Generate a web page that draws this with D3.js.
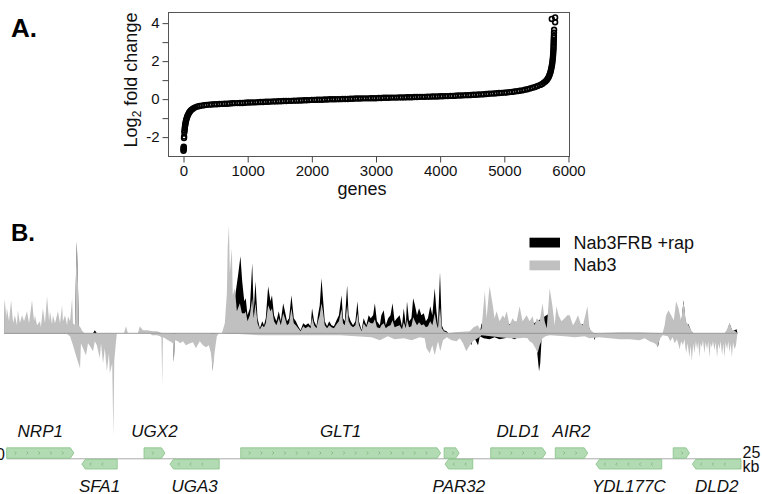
<!DOCTYPE html>
<html>
<head>
<meta charset="utf-8">
<script src="https://cdn.jsdelivr.net/npm/d3@7"></script>
<style>
  body { margin: 0; background: #fff; }
  svg { display: block; font-family: "Liberation Sans", Arial, sans-serif; }
</style>
</head>
<body>
<script>
// ---------- panel A: sorted log2 fold change per gene ----------
const lowRanks = [0, 1, 2, 3, 4, 8, 9, 13, 16, 19, 22, 25, 29, 33, 38, 44, 50, 57, 65, 75, 86, 98, 112, 128, 146, 166, 190, 218, 250, 285, 320, 360];
const lowValues = [-2.72, -2.66, -2.6, -2.55, -2.5, -2.05, -1.97, -1.75, -1.65, -1.56, -1.47, -1.39, -1.31, -1.23, -1.15, -1.07, -1.0, -0.93, -0.86, -0.79, -0.72, -0.66, -0.6, -0.55, -0.5, -0.46, -0.42, -0.39, -0.36, -0.34, -0.32, -0.3];
const midRanks = d3.range(400, 5401, 40);
const midValues = [
  -0.29, -0.28, -0.27, -0.27, -0.26, -0.25, -0.24, -0.24, -0.23, -0.22, -0.21, -0.21, -0.20, -0.20, -0.19, -0.18,
  -0.18, -0.17, -0.17, -0.16, -0.15, -0.15, -0.14, -0.14, -0.13, -0.12, -0.12, -0.11, -0.11, -0.10, -0.10, -0.09,
  -0.09, -0.08, -0.08, -0.07, -0.07, -0.06, -0.06, -0.05, -0.04, -0.04, -0.03, -0.03, -0.03, -0.02, -0.02, -0.01,
  -0.01, -0.01, 0.00, 0.00, 0.01, 0.01, 0.01, 0.02, 0.02, 0.03, 0.03, 0.03, 0.04, 0.04, 0.04, 0.05, 0.05, 0.05,
  0.06, 0.06, 0.07, 0.07, 0.07, 0.08, 0.08, 0.08, 0.09, 0.09, 0.09, 0.10, 0.10, 0.10, 0.11, 0.11, 0.12, 0.12,
  0.12, 0.13, 0.13, 0.14, 0.14, 0.14, 0.15, 0.15, 0.16, 0.16, 0.17, 0.17, 0.18, 0.19, 0.19, 0.20, 0.21, 0.21,
  0.22, 0.23, 0.23, 0.24, 0.25, 0.26, 0.27, 0.28, 0.29, 0.30, 0.31, 0.32, 0.33, 0.34, 0.35, 0.37, 0.38, 0.40,
  0.42, 0.44, 0.46, 0.49, 0.52, 0.56
];
const highRanks = [5440, 5480, 5520, 5560, 5590, 5615, 5640, 5660, 5675, 5688, 5698, 5707, 5715, 5722, 5728, 5734, 5739, 5744, 5748, 5752, 5755, 5758, 5760, 5762, 5764, 5766, 5767, 5768, 5769, 5770, 5771, 5772, 5773, 5774, 5776, 5740, 5792, 5792];
const highValues = [0.6, 0.64, 0.69, 0.75, 0.8, 0.86, 0.93, 1.0, 1.07, 1.14, 1.22, 1.3, 1.38, 1.46, 1.55, 1.64, 1.73, 1.82, 1.92, 2.02, 2.12, 2.22, 2.32, 2.42, 2.52, 2.62, 2.72, 2.82, 2.92, 3.02, 3.12, 3.22, 3.34, 3.5, 3.65, 4.22, 4.3, 4.05];
const xTicksA = [0, 1000, 2000, 3000, 4000, 5000, 6000];
const yTicksA = [-2, -1, 0, 1, 2, 3, 4];

// ---------- panel B: coverage tracks, [kb, reads] ----------
const nab3Sense = [
  [0,0],[0.02,20],[0.03,33],[0.07,15],[0.10,25],[0.17,12],[0.24,33],[0.31,10],[0.37,18],[0.44,8],[0.47,23],[0.54,10],
  [0.61,18],[0.68,12],[0.78,22],[0.85,10],[0.95,33],[1.02,12],[1.05,18],[1.12,8],[1.22,12],[1.25,6],[1.32,25],[1.39,10],
  [1.46,37],[1.53,12],[1.56,22],[1.63,9],[1.66,18],[1.73,10],[1.83,22],[1.90,10],[1.97,28],[2.00,12],[2.07,18],[2.14,8],
  [2.17,17],[2.24,12],[2.31,35],[2.34,10],[2.41,8],[2.44,60],[2.47,91],[2.51,50],[2.54,8],[2.61,5],[2.64,3],[2.71,0],
  [4.07,0],[4.14,7],[4.20,0],[4.54,0],[4.61,7],[4.71,3],[4.85,3],[5.05,2],[5.19,2],[5.29,1],[5.36,0],
  [7.39,0],[7.49,10],[7.56,40],[7.59,87],[7.63,108],[7.66,60],[7.73,85],[7.76,38],[7.83,45],[7.90,22],[8.00,30],[8.07,20],
  [8.17,20],[8.20,22],[8.26,12],[8.34,18],[8.42,35],[8.47,15],[8.53,30],[8.60,10],[8.68,4],[8.76,8],[8.82,6],[8.88,10],
  [8.96,28],[9.04,22],[9.09,25],[9.16,12],[9.24,8],[9.32,15],[9.39,8],[9.47,20],[9.53,15],[9.60,8],[9.67,10],[9.75,25],
  [9.83,10],[9.90,8],[9.98,5],[10.06,2],[10.15,7],[10.23,5],[10.32,7],[10.40,5],[10.45,16],[10.52,8],[10.60,5],[10.65,12],
  [10.71,18],[10.77,30],[10.82,22],[10.88,8],[10.96,5],[11.03,8],[11.11,6],[11.19,5],[11.28,9],[11.36,12],[11.45,24],
  [11.50,10],[11.56,8],[11.64,28],[11.69,12],[11.76,8],[11.84,6],[11.92,8],[11.99,20],[12.04,8],[12.13,2],[12.20,10],
  [12.29,6],[12.37,12],[12.44,10],[12.52,10],[12.58,14],[12.65,6],[12.75,5],[12.80,8],[12.88,10],[12.95,5],[13.03,7],
  [13.11,8],[13.18,13],[13.25,6],[13.33,7],[13.42,8],[13.50,4],[13.56,11],[13.63,5],[13.67,14],[13.74,6],[13.82,7],
  [13.88,16],[13.94,12],[14.01,8],[14.08,11],[14.16,8],[14.24,9],[14.31,6],[14.38,7],[14.46,12],[14.53,8],[14.61,20],
  [14.67,10],[14.72,5],[14.79,26],[14.85,5],[14.92,2],[15.01,1],[15.08,0],
  [15.29,1],[15.80,2],[15.93,6],[16.07,8],[16.17,3],[16.20,5],[16.31,42],[16.37,15],[16.47,47],[16.58,28],[16.64,15],
  [16.71,22],[16.81,12],[16.92,18],[16.98,15],[17.05,22],[17.15,8],[17.25,15],[17.32,12],[17.39,12],[17.49,27],[17.59,12],
  [17.66,15],[17.73,18],[17.83,12],[17.93,17],[18.00,8],[18.07,15],[18.17,12],[18.27,30],[18.34,12],[18.41,5],[18.51,45],
  [18.60,28],[18.68,8],[18.74,27],[18.81,18],[18.91,12],[19.02,15],[19.11,18],[19.19,18],[19.30,8],[19.38,12],[19.47,18],
  [19.56,10],[19.64,8],[19.79,27],[19.86,5],[19.94,2],[20.03,0],
  [20.88,1],[21.56,1],[22.34,0],[22.41,8],[22.46,18],[22.54,23],[22.63,18],[22.72,13],[22.80,32],[22.88,25],[22.97,12],
  [23.05,32],[23.13,12],[23.22,8],[23.31,3],[23.39,0],
  [24.44,0],[24.51,3],[24.61,10],[24.71,3],[24.81,2],[24.88,0]
];
const nab3Anti = [
  [0,0],[2.10,0],[2.24,-3],[2.34,-12],[2.47,-25],[2.58,-35],[2.61,-10],[2.68,-15],[2.78,-22],[2.85,-10],[2.92,-13],
  [3.02,-18],[3.08,-8],[3.15,-12],[3.25,-25],[3.29,-10],[3.36,-30],[3.42,-15],[3.49,-38],[3.56,-20],[3.59,-40],[3.67,-30],
  [3.71,-103],[3.74,-28],[3.80,-8],[3.83,0],
  [4.95,0],[5.02,-2],[5.19,-2],[5.29,-3],[5.34,-4],[5.37,-52],[5.39,-4],[5.46,-5],[5.56,-7],[5.63,-8],[5.73,-10],[5.76,-28],
  [5.80,-7],[5.90,-8],[5.97,-10],[6.07,-8],[6.17,-12],[6.31,-10],[6.41,-9],[6.51,-15],[6.64,-8],[6.75,-12],[6.85,-14],
  [6.95,-12],[7.02,-20],[7.08,-37],[7.15,-18],[7.22,-3],[7.29,0],
  [7.49,0],[8.68,-2],[10.03,-2],[11.39,-2],[12.47,-4],[12.75,-7],[13.02,-3],[13.25,-6],[13.56,-5],[13.83,-7],[14.10,-4],
  [14.27,-5],[14.33,-15],[14.44,-20],[14.53,-12],[14.61,-22],[14.72,-8],[14.80,-18],[14.89,-7],[15.02,-4],[15.18,-7],
  [15.35,-8],[15.46,-5],[15.57,-10],[15.68,-18],[15.80,-12],[15.90,-8],[16.07,-5],[16.20,-2],[16.81,-4],[17.15,-5],
  [17.49,-5],[17.73,-4],[17.83,-8],[17.93,-10],[18.03,-15],[18.10,-20],[18.17,-12],[18.27,-5],[18.37,-3],[18.51,-2],
  [19.02,-3],[19.36,-4],[19.69,-3],[19.86,-5],[20.20,-4],[20.54,-5],[20.88,-6],[21.22,-6],[21.56,-7],[21.73,-5],[21.90,-8],
  [22.07,-10],[22.17,-13],[22.24,-6],[22.34,-2],[22.52,-3],[22.60,-8],[22.68,-4],[22.75,-10],[22.83,-6],[22.92,-16],
  [22.97,-8],[23.03,-12],[23.08,-6],[23.14,-20],[23.19,-10],[23.25,-24],[23.29,-12],[23.33,-28],[23.38,-10],[23.42,-20],
  [23.47,-8],[23.51,-16],[23.55,-9],[23.59,-24],[23.63,-10],[23.67,-14],[23.71,-7],[23.76,-20],[23.80,-9],[23.85,-16],
  [23.89,-8],[23.93,-24],[23.97,-10],[24.01,-14],[24.05,-8],[24.10,-17],[24.14,-9],[24.19,-24],[24.23,-10],[24.27,-16],
  [24.31,-8],[24.36,-22],[24.40,-10],[24.44,-24],[24.48,-9],[24.53,-16],[24.57,-8],[24.61,-19],[24.65,-10],[24.69,-24],
  [24.73,-9],[24.78,-16],[24.83,-12],[24.88,0]
];
const frbSense = [
  [0,0],[0.02,5],[0.03,34],[0.05,5],[2.41,5],[2.44,55],[2.47,92],[2.51,45],[2.54,5],[2.58,3],[2.71,0],[3.02,0],[3.08,3],[3.15,0],
  [7.49,0],[7.72,20],[7.83,35],[7.94,58],[8.02,77],[8.08,52],[8.15,32],[8.20,35],[8.26,18],[8.34,25],[8.42,70],[8.47,22],
  [8.53,52],[8.60,15],[8.68,5],[8.76,12],[8.82,8],[8.88,15],[8.96,47],[9.04,32],[9.09,38],[9.16,18],[9.24,12],[9.32,22],
  [9.39,12],[9.47,30],[9.53,22],[9.60,12],[9.67,15],[9.75,38],[9.83,15],[9.90,12],[9.98,7],[10.06,3],[10.15,10],[10.23,8],
  [10.32,10],[10.40,7],[10.45,25],[10.52,12],[10.60,7],[10.65,18],[10.71,28],[10.77,55],[10.82,35],[10.88,12],[10.96,7],
  [11.03,12],[11.11,8],[11.19,7],[11.28,13],[11.36,18],[11.45,38],[11.50,15],[11.56,12],[11.64,48],[11.69,18],[11.76,12],
  [11.84,8],[11.92,12],[11.99,32],[12.04,12],[12.13,3],[12.20,15],[12.29,8],[12.37,18],[12.44,15],[12.52,18],[12.58,30],
  [12.65,12],[12.75,8],[12.80,18],[12.88,23],[12.95,8],[13.03,15],[13.11,18],[13.18,30],[13.25,12],[13.33,15],[13.42,18],
  [13.50,7],[13.56,25],[13.63,8],[13.67,32],[13.74,12],[13.82,15],[13.88,35],[13.94,28],[14.01,18],[14.08,25],[14.16,18],
  [14.24,20],[14.31,12],[14.38,15],[14.46,27],[14.53,18],[14.61,45],[14.67,22],[14.72,8],[14.79,61],[14.85,8],[14.92,3],
  [15.01,2],[15.08,0],
  [16.14,0],[16.20,10],[16.27,3],[16.47,20],[16.64,5],[17.49,12],[17.66,4],[18.51,20],[18.68,4],[19.64,9],[19.73,4],
  [19.79,10],[19.93,0],
  [22.34,0],[22.58,8],[22.80,15],[22.97,8],[23.05,33],[23.13,8],[23.22,9],[23.31,2],[23.39,0],
  [24.51,0],[24.61,10],[24.71,2],[24.85,4],[24.88,0]
];
const frbAnti = [
  [0,0],[5.70,0],[5.73,-2],[5.76,-29],[5.80,-2],[5.83,0],[7.00,0],[7.02,-2],[7.08,-38],[7.14,-2],[7.19,0],
  [15.73,0],[15.85,-12],[15.93,-3],[16.08,-12],[16.14,-3],[16.27,-5],[16.47,-6],[16.64,-4],[16.81,-6],[16.98,-5],
  [17.15,-4],[17.32,-6],[17.49,-3],[17.66,-4],[17.93,-4],[18.07,-14],[18.15,-38],[18.19,-30],[18.24,-3],[18.44,0],
  [20.00,0],[20.03,-7],[20.10,0],[22.07,0],[22.18,-14],[22.27,0],[24.88,0]
];

// genes (kb)
const geneNames = ["NRP1", "SFA1", "UGX2", "UGA3", "GLT1", "", "PAR32", "DLD1", "AIR2", "YDL177C", "", "DLD2"];
const geneStart = [0.09, 2.64, 4.75, 5.63, 8.03, 14.93, 14.96, 16.51, 18.70, 20.08, 22.70, 23.35];
const geneEnd = [2.37, 3.84, 5.46, 7.30, 14.81, 15.44, 15.90, 18.38, 19.80, 22.31, 23.25, 25.0];
const geneStrand = ["+", "-", "+", "-", "+", "+", "-", "+", "+", "-", "+", "-"];

const seriesNames = ["Nab3FRB +rap", "Nab3"];
const seriesColors = ["#000000", "#c0c0c0"];

const W = 762, H = 494;
const svg = d3.select("body").append("svg").attr("width", W).attr("height", H);

// ================= Panel A =================
const xA = d3.scaleLinear().domain([-234, 6016]).range([168.5, 569.5]);
const yA = d3.scaleLinear().domain([-3.02, 4.56]).range([156.5, 12.5]);

svg.append("text").attr("x", 11).attr("y", 37)
  .attr("font-size", 26).attr("font-weight", "bold").text("A.");

const pointsA = [];
lowRanks.forEach((r, i) => pointsA.push([r, lowValues[i]]));
midRanks.forEach((r, i) => pointsA.push([r, midValues[i]]));
highRanks.forEach((r, i) => pointsA.push([r, highValues[i]]));

svg.append("g").selectAll("circle")
  .data(pointsA)
  .join("circle")
  .attr("cx", d => xA(d[0]))
  .attr("cy", d => yA(d[1]))
  .attr("r", 2.4)
  .attr("fill", "none")
  .attr("stroke", "#000")
  .attr("stroke-width", 1.6);

svg.append("rect")
  .attr("x", xA(-234)).attr("y", yA(4.56))
  .attr("width", xA(6016) - xA(-234))
  .attr("height", yA(-3.02) - yA(4.56))
  .attr("fill", "none").attr("stroke", "#555");

const axB = svg.append("g")
  .attr("transform", `translate(0,${yA(-3.02)})`)
  .call(d3.axisBottom(xA).tickValues(xTicksA).tickSize(6).tickPadding(3).tickFormat(d => String(d)));
axB.select(".domain").remove();
axB.attr("font-family", null).attr("font-size", 15).attr("color", "#444");
axB.selectAll("text").attr("fill", "#111");

const axL = svg.append("g")
  .attr("transform", `translate(${xA(-234)},0)`)
  .call(d3.axisLeft(yA).tickValues(yTicksA).tickSize(6).tickPadding(3)
    .tickFormat(d => (d % 2 === 0 ? String(d) : "")));
axL.select(".domain").remove();
axL.attr("font-family", null).attr("font-size", 15).attr("color", "#444");
axL.selectAll("text").attr("fill", "#111");

svg.append("text").attr("x", 362).attr("y", 195)
  .attr("text-anchor", "middle").attr("font-size", 18).attr("fill", "#111").text("genes");

const yl = svg.append("text")
  .attr("transform", "translate(136.5,80) rotate(-90)")
  .attr("text-anchor", "middle").attr("font-size", 18).attr("fill", "#111");
yl.append("tspan").text("Log");
yl.append("tspan").attr("font-size", 12).attr("dy", 4).text("2");
yl.append("tspan").attr("dy", -4).text(" fold change");

// ================= Panel B =================
const xB = d3.scaleLinear().domain([0, 25]).range([4, 741]);
const yB = d3.scaleLinear().domain([-110, 110]).range([443.3, 223.3]);

svg.append("text").attr("x", 11).attr("y", 240.5)
  .attr("font-size", 24).attr("font-weight", "bold").text("B.");

const area = d3.area()
  .x(d => xB(d[0]))
  .y0(yB(0))
  .y1(d => yB(d[1]));

const tracks = svg.append("g");
tracks.append("path").datum(frbSense).attr("d", area).attr("fill", seriesColors[0]);
tracks.append("path").datum(frbAnti).attr("d", area).attr("fill", seriesColors[0]);
tracks.append("path").datum(nab3Sense).attr("d", area).attr("fill", seriesColors[1]);
tracks.append("path").datum(nab3Anti).attr("d", area).attr("fill", seriesColors[1]);

svg.append("line")
  .attr("x1", xB(0)).attr("x2", xB(24.88))
  .attr("y1", yB(0)).attr("y2", yB(0))
  .attr("stroke", "#999").attr("stroke-width", 1);

// legend
const leg = svg.append("g");
seriesNames.forEach((name, i) => {
  leg.append("rect").attr("x", 529.5).attr("y", 237.7 + i * 22.8)
    .attr("width", 30.5).attr("height", 9.8).attr("fill", seriesColors[i]);
  leg.append("text").attr("x", 573.5).attr("y", 248.5 + i * 22.8)
    .attr("font-size", 18).attr("fill", "#111").text(name);
});

// gene track
const trackY = 458.8;
const genes = geneNames.map((n, i) => ({
  name: n, start: geneStart[i], end: geneEnd[i], strand: geneStrand[i]
}));

svg.append("line")
  .attr("x1", xB(0.09)).attr("x2", xB(25))
  .attr("y1", trackY).attr("y2", trackY)
  .attr("stroke", "#aaa").attr("stroke-width", 1);

const gGenes = svg.append("g");
const tip = 3.5;
genes.forEach(g => {
  const x0 = xB(g.start), x1 = xB(g.end);
  const fwd = g.strand === "+";
  const top = fwd ? 447.8 : 459.3;
  const bot = fwd ? 458.3 : 469;
  const mid = (top + bot) / 2;
  const p = fwd
    ? `M${x0},${top}L${x1 - tip},${top}L${x1},${mid}L${x1 - tip},${bot}L${x0},${bot}Z`
    : `M${x1},${top}L${x0 + tip},${top}L${x0},${mid}L${x0 + tip},${bot}L${x1},${bot}Z`;
  gGenes.append("path").attr("d", p)
    .attr("fill", "#b3dbb3").attr("stroke", "#85c285").attr("stroke-width", 0.8);

  for (let k = g.start + 0.3; k < g.end - 0.2; k += 0.4) {
    const cx = xB(k);
    const d = fwd
      ? `M${cx - 0.8},${mid - 1.6}L${cx + 0.8},${mid}L${cx - 0.8},${mid + 1.6}`
      : `M${cx + 0.8},${mid - 1.6}L${cx - 0.8},${mid}L${cx + 0.8},${mid + 1.6}`;
    gGenes.append("path").attr("d", d)
      .attr("fill", "none").attr("stroke", "#6fae6f").attr("stroke-width", 0.7);
  }

  if (g.name) {
    gGenes.append("text")
      .attr("x", (x0 + x1) / 2)
      .attr("y", fwd ? 437 : 491.5)
      .attr("text-anchor", "middle")
      .attr("font-size", 17).attr("font-style", "italic").attr("fill", "#111")
      .text(g.name);
  }
});

svg.append("text").attr("x", xB(0) + 1).attr("y", 460)
  .attr("text-anchor", "end").attr("font-size", 16).attr("fill", "#111").text("0");
svg.append("text").attr("x", 742.5).attr("y", 457.5)
  .attr("font-size", 16).attr("fill", "#111").text("25");
svg.append("text").attr("x", 742.5).attr("y", 472)
  .attr("font-size", 16).attr("fill", "#111").text("kb");
</script>
</body>
</html>
